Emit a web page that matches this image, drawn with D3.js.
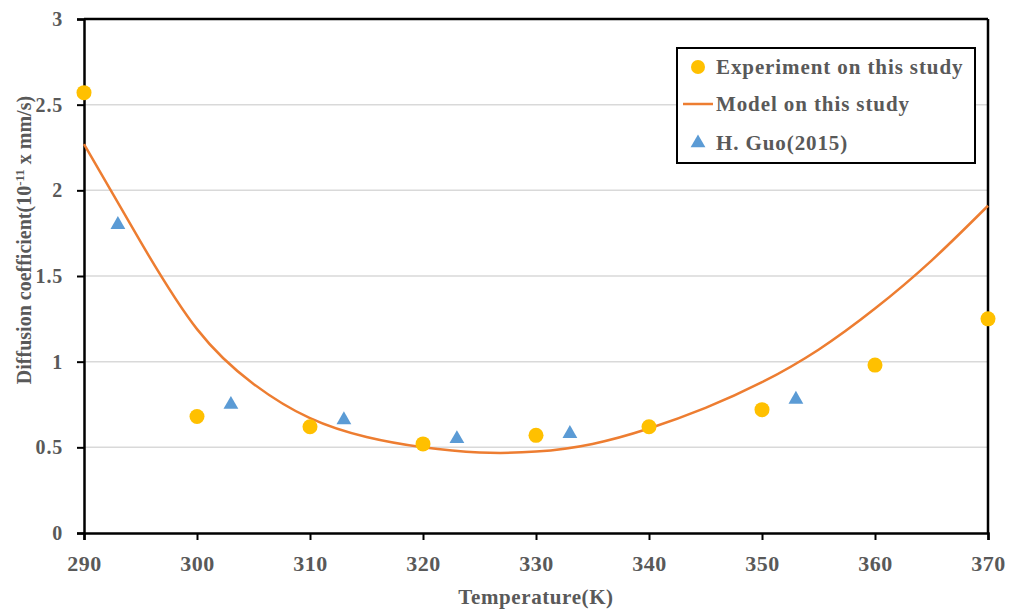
<!DOCTYPE html>
<html><head><meta charset="utf-8">
<script src="https://cdn.jsdelivr.net/npm/d3@7"></script>
<style>body{margin:0;background:#fff}</style>
</head><body>
<svg id="c" width="1017" height="612"></svg>
<script>
const expTemps = [290, 300, 310, 320, 330, 340, 350, 360, 370];
const expValues = [2.57, 0.68, 0.62, 0.52, 0.57, 0.62, 0.72, 0.98, 1.25];
const guoTemps = [293, 303, 313, 323, 333, 353];
const guoValues = [1.80, 0.75, 0.66, 0.55, 0.58, 0.78];
const modelTemps = [290, 295, 300, 305, 310, 315, 320, 325, 330, 335, 340, 345, 350, 355, 360, 365, 370];
const modelValues = [2.27, 1.70, 1.19, 0.87, 0.67, 0.56, 0.50, 0.47, 0.475, 0.52, 0.61, 0.73, 0.88, 1.07, 1.31, 1.59, 1.91];
const xTicks = [290, 300, 310, 320, 330, 340, 350, 360, 370];
const yTicks = [0, 0.5, 1, 1.5, 2, 2.5, 3];
const legendLabels = ["Experiment on this study", "Model on this study", "H. Guo(2015)"];

const svg = d3.select("#c");
const L = 84, R = 988, T = 19, B = 533;
const x = d3.scaleLinear().domain([290, 370]).range([L, R]);
const y = d3.scaleLinear().domain([0, 3]).range([B, T]);
const font = "'Liberation Serif', 'DejaVu Serif', serif";
const grey = "#595959";

// gridlines
svg.append("g").selectAll("line").data(yTicks.filter(d => d > 0 && d < 3)).join("line")
  .attr("x1", L).attr("x2", R).attr("y1", d => y(d)).attr("y2", d => y(d))
  .attr("stroke", "#d9d9d9").attr("stroke-width", 1.5);

// axes
const xAxis = svg.append("g").attr("transform", `translate(0,${B})`)
  .call(d3.axisBottom(x).tickValues(xTicks).tickSize(7).tickPadding(15).tickFormat(d3.format("d")));
const yAxis = svg.append("g").attr("transform", `translate(${L},0)`)
  .call(d3.axisLeft(y).tickValues(yTicks).tickSize(7).tickPadding(14).tickFormat(d => d));
[xAxis, yAxis].forEach(a => {
  a.select(".domain").attr("stroke", "#000").attr("stroke-width", 2.5);
  a.selectAll(".tick line").attr("stroke", "#000").attr("stroke-width", 2);
  a.selectAll("text").attr("font-family", font).attr("font-weight", "bold").attr("fill", grey);
});
xAxis.selectAll("text").attr("font-size", 22).attr("letter-spacing", 0.5);
yAxis.selectAll("text").attr("font-size", 20).attr("letter-spacing", 0.8);
// frame top and right
svg.append("line").attr("x1", L).attr("x2", R).attr("y1", T).attr("y2", T).attr("stroke", "#000").attr("stroke-width", 2.5);
svg.append("line").attr("x1", R).attr("x2", R).attr("y1", T).attr("y2", B).attr("stroke", "#000").attr("stroke-width", 2.5);

// model line
const model = modelTemps.map((t, i) => [t, modelValues[i]]);
svg.append("path").datum(model)
  .attr("d", d3.line().x(d => x(d[0])).y(d => y(d[1])).curve(d3.curveNatural))
  .attr("fill", "none").attr("stroke", "#ED7D31").attr("stroke-width", 2.5);

// experiment points
svg.append("g").selectAll("circle").data(expTemps.map((t, i) => [t, expValues[i]])).join("circle")
  .attr("cx", d => x(d[0])).attr("cy", d => y(d[1])).attr("r", 7.5).attr("fill", "#FFC000");

// Guo triangles
const tri = d3.symbol().type(d3.symbolTriangle).size(95);
svg.append("g").selectAll("path").data(guoTemps.map((t, i) => [t, guoValues[i]])).join("path")
  .attr("d", tri).attr("transform", d => `translate(${x(d[0])},${y(d[1])})`).attr("fill", "#5B9BD5");

// axis titles
svg.append("text").attr("x", 536).attr("y", 604).attr("text-anchor", "middle")
  .attr("font-family", font).attr("font-weight", "bold").attr("font-size", 21).attr("letter-spacing", 0.6).attr("fill", grey)
  .text("Temperature(K)");
const yt = svg.append("text").attr("transform", "translate(31,240) rotate(-90)").attr("text-anchor", "middle")
  .attr("font-family", font).attr("font-weight", "bold").attr("font-size", 20).attr("fill", grey);
yt.append("tspan").text("Diffusion coefficient(10");
yt.append("tspan").attr("dy", -7).attr("font-size", 13).text("-11");
yt.append("tspan").attr("dy", 7).text(" x mm/s)");

// legend
const lg = svg.append("g");
lg.append("rect").attr("x", 677).attr("y", 48).attr("width", 298).attr("height", 115)
  .attr("fill", "#fff").attr("stroke", "#000").attr("stroke-width", 2);
const ly = [67, 104, 143];
lg.append("circle").attr("cx", 698).attr("cy", ly[0]).attr("r", 7).attr("fill", "#FFC000");
lg.append("line").attr("x1", 683).attr("x2", 713).attr("y1", ly[1]).attr("y2", ly[1]).attr("stroke", "#ED7D31").attr("stroke-width", 2.5);
lg.append("path").attr("d", tri).attr("transform", `translate(698,${ly[2]})`).attr("fill", "#5B9BD5");
lg.selectAll("text.l").data(legendLabels).join("text").attr("class", "l")
  .attr("x", 716).attr("y", (d, i) => ly[i]).attr("dy", "0.35em")
  .attr("font-family", font).attr("font-weight", "bold").attr("font-size", 21).attr("letter-spacing", 0.9).attr("fill", grey)
  .text(d => d);
</script>
</body></html>
